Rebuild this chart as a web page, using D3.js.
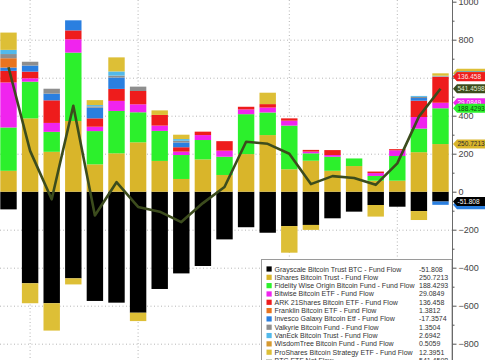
<!DOCTYPE html>
<html><head><meta charset="utf-8">
<script src="https://cdn.jsdelivr.net/npm/d3@7"></script>
<style>html,body{margin:0;padding:0;background:#fff;}svg{display:block;font-family:"Liberation Sans",Arial,sans-serif;}</style>
</head><body><svg id="c" width="485" height="360"></svg>
<script>
// ---- data (USD millions, daily fund flows) ----
const dates = ["2024-01-11","2024-01-12","2024-01-16","2024-01-17","2024-01-18","2024-01-19","2024-01-22","2024-01-23","2024-01-24","2024-01-25","2024-01-26","2024-01-29","2024-01-30","2024-01-31","2024-02-01","2024-02-02","2024-02-05","2024-02-06","2024-02-07","2024-02-08","2024-02-09"];
const grayscale  = [-93,-482,-587,-456,-575,-584,-637,-512,-430,-391,-251,-187,-216,-181,-175,-140,-105,-70,-79,-102,-51.808];
const ishares    = [110,386,210,372,144,202,260,162,67,170,88,198,298,118,163,110,135,58,58,208,250.7213];
const fidelity   = [228,193,105,360,175,223,158,158,126,102,96,210,119,230,39,74,40,25,130,124,188.4293];
const bitwise    = [237,18,47,70,23,53,42,28,18,26,32,25,26,26,9,9,0,15,30,61,29.0849];
const ark        = [61,35,119,47,44,63,70,56,23,18,50,14,18,12,9,26,0,8,6,86,136.458];
const franklin   = [49,0,0,0,0,0,0,0,0,0,0,0,0,0,0,0,0,0,0,0,1.3812];
const invesco    = [17.5,32,35,53,56,60,0,0,25,0,0,0,0,0,0,0,0,0,0,14,-17.3574];
const valkyrie   = [22,20,26,0,7,10,23,0,9,0,0,0,0,0,0,0,0,0,0,6,1.3504];
const vaneck     = [22,0,0,0,7,22,0,0,9,0,0,0,0,0,0,0,0,0,0,5,2.6942];
const wisdomtree = [0,0,0,0,0,0,0,0,0,0,0,0,0,0,0,0,0,0,0,0,0.5059];
const proshares  = [91,-105,-144,-32,26,74,-44,24,23,0,0,0,60,-140,-26,0,0,-61,0,-47,12.3951];
const netFlow    = [655,215,-40,452,-125,50,-80,-105,-160,-60,25,263,252,200,40,82,72,36,149,395,541.4598];
const yTicks = [1000,800,600,400,200,0,-200,-400,-600,-800];
const yMinorTicks = [900,700,500,300,100,-100,-300,-500,-700,-900];
const gridDates = ["2024-01-12","2024-01-22","2024-01-31","2024-02-07"];

// ---- series definitions (stack order) ----
const series = [
  {key:"gbtc", name:"Grayscale Bitcoin Trust BTC - Fund Flow", values:grayscale, color:"#000000", text:"#ffffff"},
  {key:"ibit", name:"IShares Bitcoin Trust - Fund Flow", values:ishares, color:"#d9b52a", text:"#2a2a2a"},
  {key:"fbtc", name:"Fidelity Wise Origin Bitcoin Fund - Fund Flow", values:fidelity, color:"#2cf02c", text:"#0b4a0b"},
  {key:"bitb", name:"Bitwise Bitcoin ETF - Fund Flow", values:bitwise, color:"#f024ee", text:"#ffffff"},
  {key:"arkb", name:"ARK 21Shares Bitcoin ETF - Fund Flow", values:ark, color:"#ee1c1c", text:"#ffe6e6"},
  {key:"btco", name:"Invesco Galaxy Bitcoin Etf - Fund Flow", values:invesco, color:"#2a7fe0", text:"#ffffff"},
  {key:"ezbc", name:"Franklin Bitcoin ETF - Fund Flow", values:franklin, color:"#e8741f", text:"#ffffff"},
  {key:"brrr", name:"Valkyrie Bitcoin Fund - Fund Flow", values:valkyrie, color:"#8e8e8e", text:"#ffffff"},
  {key:"hodl", name:"VanEck Bitcoin Trust - Fund Flow", values:vaneck, color:"#52b9ea", text:"#ffffff"},
  {key:"btcw", name:"WisdomTree Bitcoin Fund - Fund Flow", values:wisdomtree, color:"#d69a30", text:"#2a2a2a"},
  {key:"bito", name:"ProShares Bitcoin Strategy ETF - Fund Flow", values:proshares, color:"#ddbf36", text:"#2a2a2a"}
];
const legendOrder = ["gbtc","ibit","fbtc","bitb","arkb","ezbc","btco","brrr","hodl","btcw","bito"];
const netColor = "#3c4c1d";

const svg = d3.select("#c");
const W = 485, H = 360, axisX = 452;
const x = d3.scaleBand().domain(dates).range([-2.3, 451.3]).paddingInner(0.24).paddingOuter(0.12);
const y = d3.scaleLinear().domain([-800, 1000]).range([343.7, 1.7]);
const cx = d => x(d) + x.bandwidth()/2;
const fmt = v => String(+v.toFixed(4));

// gridlines
svg.append("g").selectAll("line").data(yTicks.filter(v => v !== 0 && v !== 1000)).join("line")
  .attr("x1", 0).attr("x2", axisX).attr("y1", d => y(d)+0.5).attr("y2", d => y(d)+0.5)
  .attr("stroke", "#b5b5b5").attr("stroke-dasharray", "1,2.5");
svg.append("g").selectAll("line").data(gridDates).join("line")
  .attr("x1", d => cx(d)).attr("x2", d => cx(d)).attr("y1", 0).attr("y2", H)
  .attr("stroke", "#b5b5b5").attr("stroke-dasharray", "1,2.5");

// stacked bars
const table = dates.map((d, i) => { const o = {date: d}; series.forEach(s => o[s.key] = s.values[i]); return o; });
const stacked = d3.stack().keys(series.map(s => s.key)).offset(d3.stackOffsetDiverging)(table);
const colorOf = Object.fromEntries(series.map(s => [s.key, s.color]));
svg.append("g").selectAll("g").data(stacked).join("g")
  .attr("fill", d => colorOf[d.key])
  .selectAll("rect").data(d => d).join("rect")
  .attr("x", d => x(d.data.date)).attr("width", x.bandwidth())
  .attr("y", d => y(Math.max(d[0], d[1])))
  .attr("height", d => Math.abs(y(d[0]) - y(d[1])));

// net flow line
svg.append("path").datum(netFlow.map((v, i) => [dates[i], v]))
  .attr("fill", "none").attr("stroke", netColor).attr("stroke-width", 2.6).attr("stroke-linejoin", "round")
  .attr("d", d3.line().x(d => cx(d[0])).y(d => y(d[1])));

// legend
const lg = svg.append("g");
lg.append("rect").attr("x", 261.5).attr("y", 259.5).attr("width", axisX - 261.5).attr("height", 120)
  .attr("fill", "#fff").attr("stroke", "#9a9a9a");
const legendItems = legendOrder.map(k => series.find(s => s.key === k));
const rowY = i => 269 + i * 8.32;
legendItems.forEach((s, i) => {
  lg.append("rect").attr("x", 266.5).attr("y", rowY(i) - 2.6).attr("width", 5.2).attr("height", 5.2).attr("fill", s.color);
  lg.append("text").attr("x", 274.5).attr("y", rowY(i) + 2.5).attr("font-size", 7).attr("fill", "#333").text(s.name);
  lg.append("text").attr("x", 419).attr("y", rowY(i) + 2.5).attr("font-size", 7).attr("fill", "#333").text(fmt(s.values[s.values.length-1]));
});
const ni = legendItems.length;
lg.append("line").attr("x1", 266).attr("x2", 272).attr("y1", rowY(ni)).attr("y2", rowY(ni)).attr("stroke", netColor).attr("stroke-width", 1.6);
lg.append("text").attr("x", 274.5).attr("y", rowY(ni) + 2.5).attr("font-size", 7).attr("fill", "#333").text("BTC ETF Net Flow");
lg.append("text").attr("x", 419).attr("y", rowY(ni) + 2.5).attr("font-size", 7).attr("fill", "#333").text(fmt(netFlow[netFlow.length-1]));

// right axis
svg.append("line").attr("x1", axisX+0.5).attr("x2", axisX+0.5).attr("y1", 0).attr("y2", H).attr("stroke", "#6a6a6a");
const ax = svg.append("g").attr("transform", `translate(${axisX+0.5},0)`)
  .call(d3.axisRight(y).tickValues(yTicks).tickSize(4).tickPadding(2).tickFormat(d3.format("d")));
ax.select(".domain").remove();
ax.selectAll("line").attr("stroke", "#555");
ax.selectAll("text").attr("font-size", 9).attr("fill", "#444").attr("font-family", '"Liberation Sans",Arial,sans-serif');
const axm = svg.append("g").attr("transform", `translate(${axisX+0.5},0)`)
  .call(d3.axisRight(y).tickValues(yMinorTicks).tickSize(2).tickFormat(""));
axm.select(".domain").remove();
axm.selectAll("line").attr("stroke", "#555");

// value tags at the last bar (drawn back to front; covered tags carry no text)
const last = dates.length - 1;
const tagData = stacked.map(st => {
  const d = st[last]; const s = series.find(q => q.key === st.key);
  const v = s.values[last];
  return {y: y(v >= 0 ? d[1] : d[0]), label: fmt(v), color: s.color, text: s.text};
}).reverse();
tagData.push({y: y(netFlow[last]), label: fmt(netFlow[last]), color: netColor, text: "#e4f0d8"});
const tg = svg.append("g");
tagData.forEach((t, i) => {
  const h = 4.5;
  tg.append("path").attr("d", `M${axisX+1},${t.y} L${axisX+5},${t.y-h} L${W+2},${t.y-h} L${W+2},${t.y+h} L${axisX+5},${t.y+h} Z`)
    .attr("fill", t.color);
  const covered = tagData.slice(i+1).some(o => Math.abs(o.y - t.y) < 5);
  if (!covered) tg.append("text").attr("x", axisX+5.5).attr("y", t.y + 2.3).attr("font-size", 6.5).attr("fill", t.text).text(t.label);
});
</script></body></html>
